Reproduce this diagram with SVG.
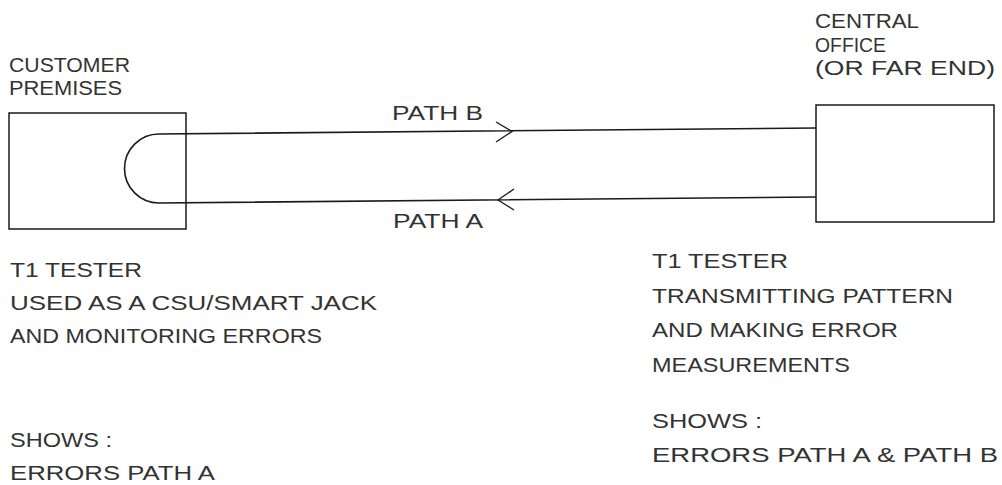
<svg xmlns="http://www.w3.org/2000/svg" width="1002" height="485" viewBox="0 0 1002 485">
<style>
.box{fill:none;stroke:#1a1a1a;stroke-width:1.5}
.wire{fill:none;stroke:#1a1a1a;stroke-width:1.6}
.arr{fill:none;stroke:#1a1a1a;stroke-width:1.3}
text{font-family:"Liberation Sans","DejaVu Sans",sans-serif;font-size:20px;fill:#333}
</style>
<rect width="1002" height="485" fill="#fff"/>
<g id="customer">
<rect class="box" x="9" y="113" width="177" height="116"/>
<text x="9" y="72" textLength="121" lengthAdjust="spacingAndGlyphs">CUSTOMER</text>
<text x="9" y="95" textLength="113" lengthAdjust="spacingAndGlyphs">PREMISES</text>
</g>
<g id="central">
<rect class="box" x="816" y="105" width="178" height="117"/>
<text x="815" y="28" textLength="104" lengthAdjust="spacingAndGlyphs">CENTRAL</text>
<text x="815" y="52" textLength="71" lengthAdjust="spacingAndGlyphs">OFFICE</text>
<text x="815" y="75" textLength="180" lengthAdjust="spacingAndGlyphs">(OR FAR END)</text>
</g>
<g id="connectors">
<path class="wire" d="M816 128 L159 134 A34.5 34.5 0 0 0 159 203 L816 197"/>
<polyline class="arr" points="496,122 512,131.5 496,142"/>
<polyline class="arr" points="514,189 498,200 514,210"/>
<text x="392" y="120" textLength="91" lengthAdjust="spacingAndGlyphs">PATH B</text>
<text x="393" y="228" textLength="90" lengthAdjust="spacingAndGlyphs">PATH A</text>
</g>
<g id="left-notes">
<text x="10" y="277" textLength="132" lengthAdjust="spacingAndGlyphs">T1 TESTER</text>
<text x="10" y="310" textLength="367" lengthAdjust="spacingAndGlyphs">USED AS A CSU/SMART JACK</text>
<text x="10" y="343" textLength="312" lengthAdjust="spacingAndGlyphs">AND MONITORING ERRORS</text>
<text x="10" y="447" textLength="102" lengthAdjust="spacingAndGlyphs">SHOWS :</text>
<text x="10" y="480" textLength="205" lengthAdjust="spacingAndGlyphs">ERRORS PATH A</text>
</g>
<g id="right-notes">
<text x="652" y="268" textLength="136" lengthAdjust="spacingAndGlyphs">T1 TESTER</text>
<text x="652" y="303" textLength="301" lengthAdjust="spacingAndGlyphs">TRANSMITTING PATTERN</text>
<text x="652" y="337" textLength="246" lengthAdjust="spacingAndGlyphs">AND MAKING ERROR</text>
<text x="652" y="372" textLength="198" lengthAdjust="spacingAndGlyphs">MEASUREMENTS</text>
<text x="652" y="428" textLength="110" lengthAdjust="spacingAndGlyphs">SHOWS :</text>
<text x="652" y="462" textLength="346" lengthAdjust="spacingAndGlyphs">ERRORS PATH A &amp; PATH B</text>
</g>
</svg>
